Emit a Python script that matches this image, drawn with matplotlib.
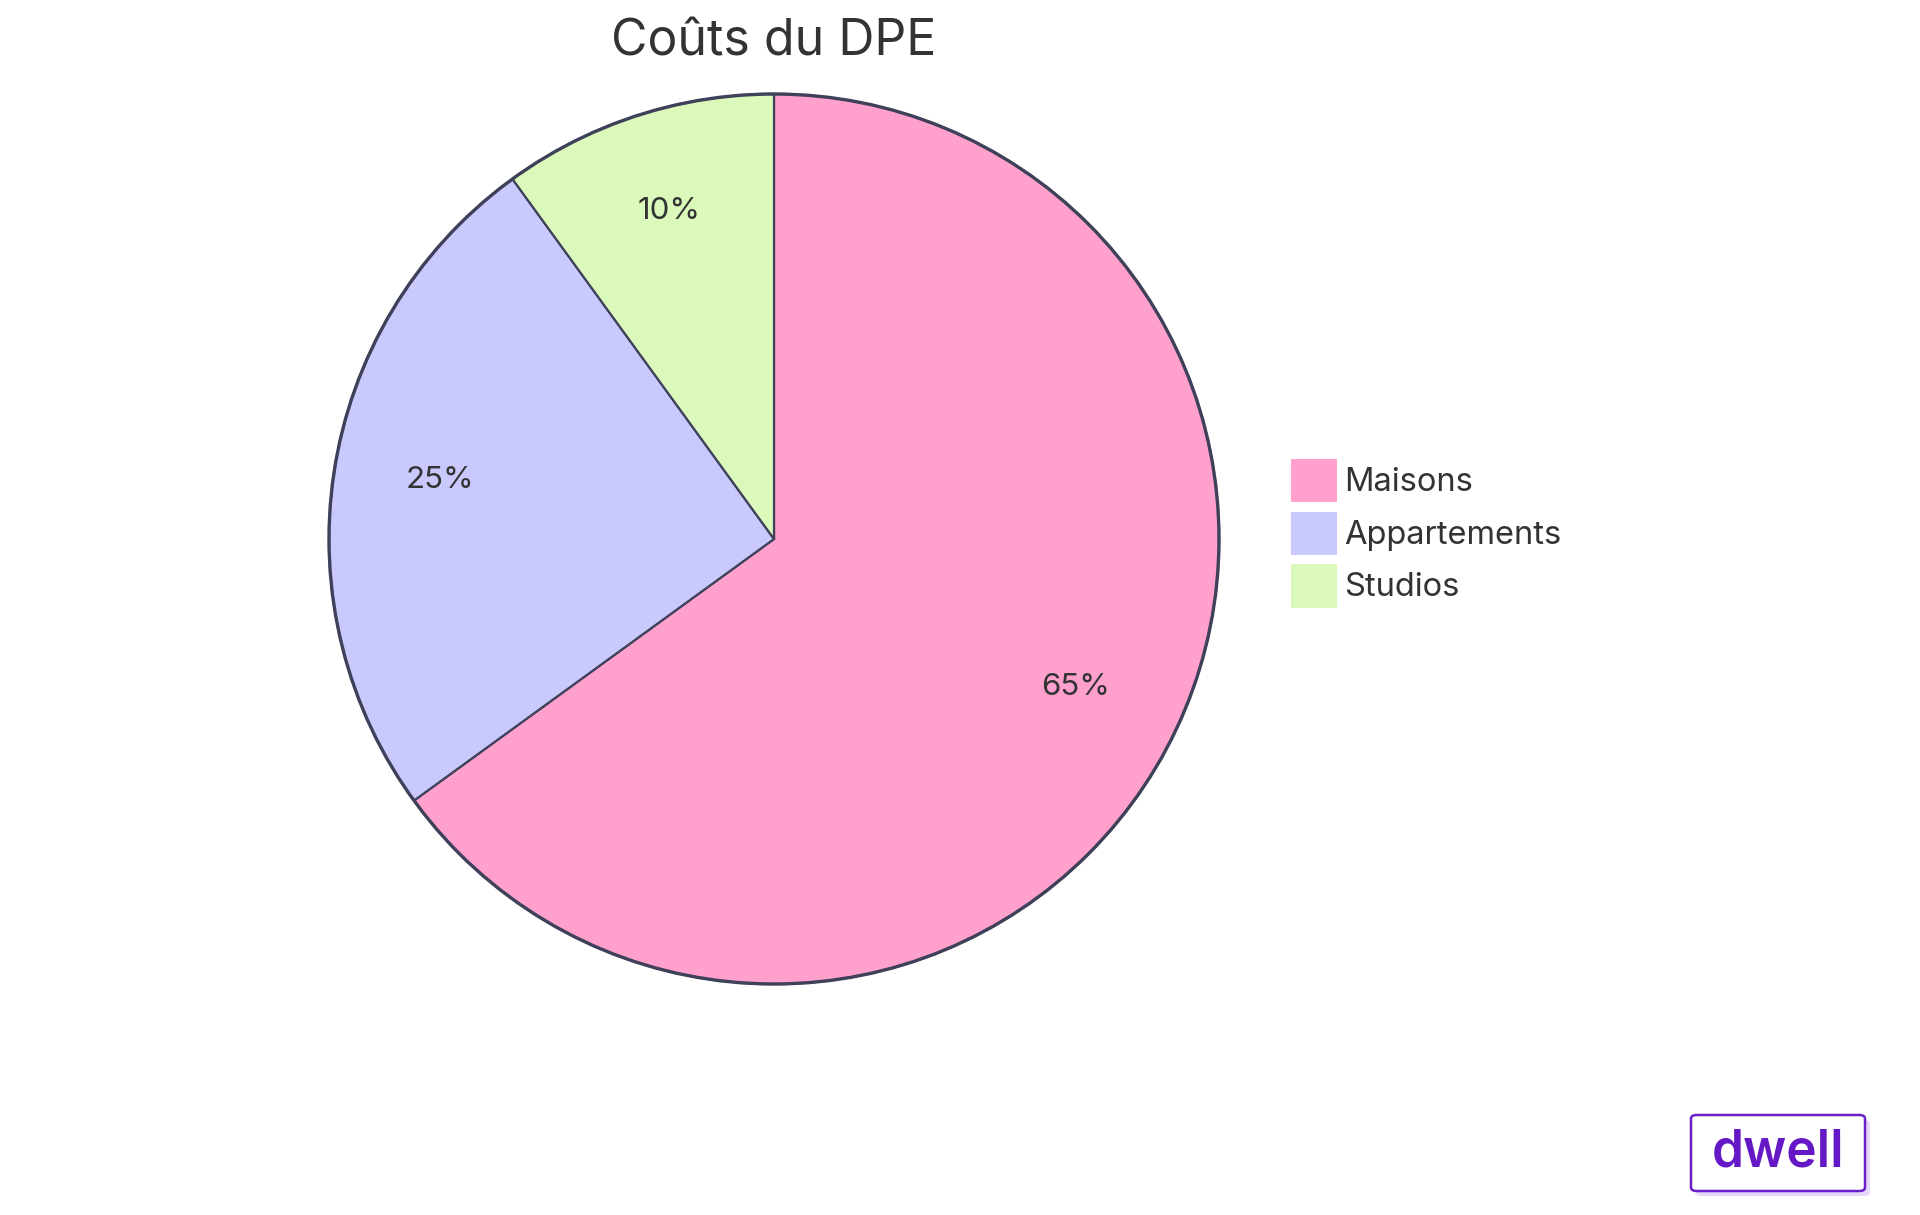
import matplotlib
matplotlib.use("Agg")
import matplotlib.pyplot as plt
from matplotlib.patches import Patch, FancyBboxPatch

plt.rcParams['font.family'] = ['Inter', 'DejaVu Sans']

title = "Coûts du DPE"
categories = ["Maisons", "Appartements", "Studios"]
values = [65, 25, 10]
colors = ["#FFA1CC", "#C9C9FD", "#DCF9BC"]
edge = "#3E4159"
text_color = "#333333"

W, H = 1920, 1215
fig = plt.figure(figsize=(W / 100, H / 100), dpi=100)

cx, cy, r = 774, 539, 445
pad = 1.02
ax = fig.add_axes([(cx - r * pad) / W, (H - cy - r * pad) / H, 2 * r * pad / W, 2 * r * pad / H])
wedges, texts, autotexts = ax.pie(
    values, colors=colors, startangle=90, counterclock=False,
    autopct=lambda p: f"{p:.0f}%", pctdistance=0.76, radius=1,
    wedgeprops=dict(edgecolor=edge, linewidth=1.6),
    textprops=dict(color=text_color, fontsize=22.5, fontweight='normal'),
)
for t in autotexts:
    x, y = t.get_position()
    t.set_position((x, y + 6 / r))
circle = plt.Circle((0, 0), 1, fill=False, edgecolor=edge, linewidth=2.4)
ax.add_patch(circle)
ax.set_xlim(-pad, pad)
ax.set_ylim(-pad, pad)
ax.set_aspect('equal')
ax.axis('off')

fig.text(cx / W, 1 - 42 / H, title, ha='center', va='center',
         fontsize=36, color=text_color, fontweight='normal')

handles = [Patch(facecolor=c, edgecolor='none') for c in colors]
fig.legend(handles, categories, loc='upper left',
           bbox_to_anchor=(1291 / W, 1 - 459 / H), frameon=False,
           prop=dict(size=23.5, weight='normal'), handlelength=1.42, handleheight=1.67,
           handletextpad=0.22, labelspacing=0.28, borderpad=0,
           borderaxespad=0, labelcolor=text_color)

# dwell logo
lx0, ly0, lx1, ly1 = 1691, 1115, 1865, 1191
shadow = FancyBboxPatch(((lx0 + 5) / W, 1 - (ly1 + 5) / H), (lx1 - lx0) / W, (ly1 - ly0) / H,
                        boxstyle="round,pad=0,rounding_size=0.003", transform=fig.transFigure,
                        facecolor="#E6D8F8", edgecolor='none')
fig.patches.append(shadow)
box = FancyBboxPatch((lx0 / W, 1 - ly1 / H), (lx1 - lx0) / W, (ly1 - ly0) / H,
                     boxstyle="round,pad=0,rounding_size=0.003", transform=fig.transFigure,
                     facecolor="white", edgecolor="#6A1FC9", linewidth=1.8)
fig.patches.append(box)
fig.text((lx0 + lx1) / 2 / W, 1 - (ly0 + ly1) / 2 / H, "dwell", ha='center', va='center',
         fontsize=37, fontweight='semibold', color="#6519C6", family=['Inter', 'DejaVu Sans'])

fig.savefig("out.png", dpi=100, facecolor='white')
